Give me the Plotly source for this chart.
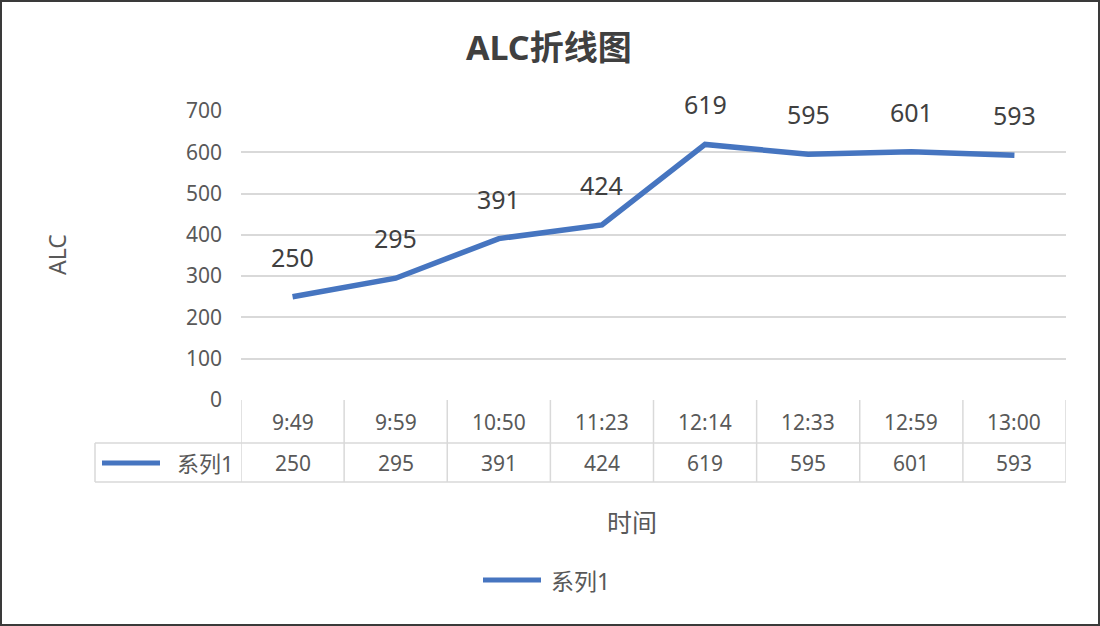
import plotly.graph_objects as go

# ---- data ----
categories = ["9:49", "9:59", "10:50", "11:23", "12:14", "12:33", "12:59", "13:00"]
alc_values = [250, 295, 391, 424, 619, 595, 601, 593]
series_name = "系列1"
y_tick_values = [0, 100, 200, 300, 400, 500, 600, 700]
title_text = "ALC折线图"
x_title_text = "时间"
y_title_text = "ALC"

# ---- layout geometry (pixels) ----
W, H = 1100, 626
L, R, T, B = 241, 34, 111, 226
PW, PH = W - L - R, H - T - B


def px_x(px):
    return (px - L) / PW


def px_y(py):
    return (H - B - py) / PH


FONT = "Noto Sans, Noto Sans CJK SC, sans-serif"
BLUE = "#4675C0"
GRID = "#d9d9d9"
TXT = "#595959"
DARK = "#404040"

fig = go.Figure()
fig.add_trace(go.Scatter(
    x=categories, y=alc_values, mode="lines", name=series_name,
    line=dict(color=BLUE, width=5.5),
    hoverinfo="skip", showlegend=False,
))


def ann(x, y, text, size, color=TXT, xref="paper", yref="paper", **kw):
    d = dict(x=x, y=y, xref=xref, yref=yref, text=text, showarrow=False,
             xanchor="center", yanchor="middle",
             font=dict(family=FONT, size=size, color=color))
    d.update(kw)
    return d


annotations = []
# data labels
for c, v in zip(categories, alc_values):
    annotations.append(ann(c, v, str(v), 25, DARK, xref="x", yref="y", yshift=40))
# table header row and value row
for c, v in zip(categories, alc_values):
    annotations.append(ann(c, px_y(422), c, 21, TXT, xref="x"))
    annotations.append(ann(c, px_y(463), str(v), 21, TXT, xref="x"))
# legend key cell text in the table
annotations.append(ann(px_x(205), px_y(463), series_name, 22, TXT))
# title
annotations.append(ann(px_x(549), px_y(47), "<b>" + title_text + "</b>", 34, DARK))
# axis titles
annotations.append(ann(px_x(57), px_y(255), y_title_text, 23, TXT, textangle=-90))
annotations.append(ann(px_x(632), px_y(522), x_title_text, 25, TXT))
# bottom legend text
annotations.append(ann(px_x(549), px_y(581), series_name, 23, TXT, xanchor="left"))

shapes = []
n = len(categories)
# vertical table lines
for i in range(n + 1):
    shapes.append(dict(type="line", xref="x", yref="paper", x0=i - 0.5, x1=i - 0.5,
                       y0=px_y(400), y1=px_y(482), line=dict(color=GRID, width=1.5)))
# legend cell left border
shapes.append(dict(type="line", xref="paper", yref="paper", x0=px_x(95), x1=px_x(95),
                   y0=px_y(443), y1=px_y(482), line=dict(color=GRID, width=1.5)))
# horizontal table lines
for py in (443, 482):
    shapes.append(dict(type="line", xref="paper", yref="paper", x0=px_x(95), x1=1,
                       y0=px_y(py), y1=px_y(py), line=dict(color=GRID, width=1.5)))
# legend key line inside table
shapes.append(dict(type="line", xref="paper", yref="paper", x0=px_x(102), x1=px_x(160),
                   y0=px_y(463), y1=px_y(463), line=dict(color=BLUE, width=5)))
# bottom legend key line
shapes.append(dict(type="line", xref="paper", yref="paper", x0=px_x(483), x1=px_x(541),
                   y0=px_y(580), y1=px_y(580), line=dict(color=BLUE, width=5)))
# outer border of the chart
shapes.append(dict(type="rect", xref="paper", yref="paper",
                   x0=px_x(1), x1=px_x(W - 1), y0=px_y(H - 1), y1=px_y(1),
                   line=dict(color="#3a3a3a", width=2)))

fig.update_layout(
    width=W, height=H,
    margin=dict(l=L, r=R, t=T, b=B, pad=0),
    paper_bgcolor="white", plot_bgcolor="white",
    font=dict(family=FONT, color=TXT),
    showlegend=False,
    xaxis=dict(type="category", range=[-0.5, n - 0.5], showticklabels=False,
               showgrid=False, zeroline=False, showline=False, ticks=""),
    yaxis=dict(range=[0, 700], tickvals=y_tick_values, showgrid=True,
               gridcolor=GRID, gridwidth=1.5, zeroline=False, showline=False,
               ticks="", ticklabelstandoff=18,
               tickfont=dict(family=FONT, size=21, color=TXT)),
    annotations=annotations,
    shapes=shapes,
)

fig.write_html("out.html", config={"displayModeBar": False},
               post_script="document.body.style.margin='0';document.body.style.overflow='hidden';")
